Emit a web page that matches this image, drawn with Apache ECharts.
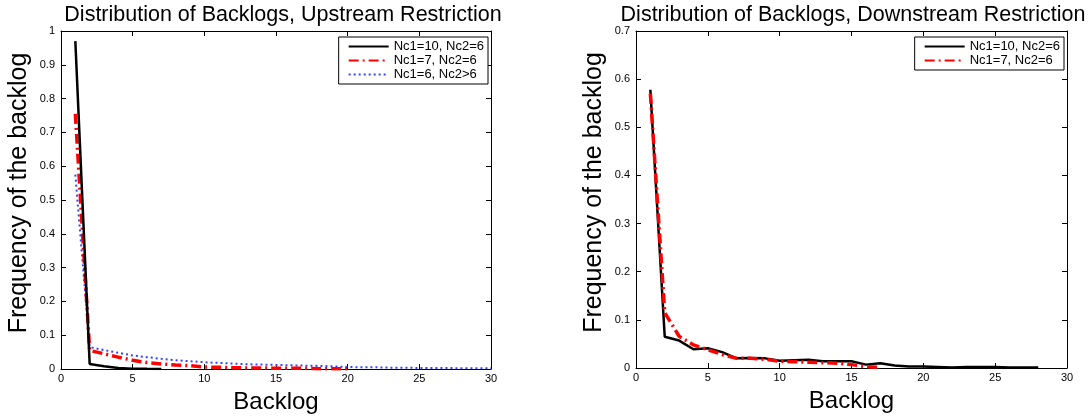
<!DOCTYPE html>
<html>
<head>
<meta charset="utf-8">
<script src="https://cdn.jsdelivr.net/npm/echarts@6/dist/echarts.min.js"></script>
<style>
  html, body { margin: 0; padding: 0; background: #fff; }
  #chart { width: 1088px; height: 419px; }
</style>
</head>
<body>
<div id="chart"></div>
<script>
// backlog values 1..n for each series
var upNames = ['Nc1=10, Nc2=6', 'Nc1=7, Nc2=6', 'Nc1=6, Nc2>6'];
var upA = [0.97, 0.015, 0.008, 0.003, 0.001, 0.0005, 0.0003];
var upB = [0.755, 0.055, 0.045, 0.035, 0.026, 0.019, 0.015, 0.012, 0.01, 0.006,
           0.005, 0.004, 0.003, 0.003, 0.002, 0.002, 0.002, 0.001, 0.001, 0.001];
var upC = [0.575, 0.065, 0.056, 0.048, 0.04, 0.035, 0.03, 0.026, 0.023, 0.02,
           0.018, 0.016, 0.014, 0.013, 0.012, 0.011, 0.01, 0.009, 0.008, 0.006,
           0.005, 0.005, 0.004, 0.004, 0.003, 0.003, 0.003, 0.002, 0.002, 0.002];

var downNames = ['Nc1=10, Nc2=6', 'Nc1=7, Nc2=6'];
var downA = [0.578, 0.065, 0.057, 0.039, 0.041, 0.033, 0.02, 0.021, 0.02, 0.015,
             0.016, 0.017, 0.014, 0.014, 0.014, 0.007, 0.01, 0.005, 0.003, 0.003,
             0.002, 0.001, 0.002, 0.002, 0.002, 0.001, 0.001, 0.001];
var downB = [0.57, 0.115, 0.066, 0.048, 0.038, 0.028, 0.02, 0.02, 0.018, 0.014,
             0.013, 0.012, 0.011, 0.01, 0.007, 0.003, 0.001];

var titles = ['Distribution of Backlogs, Upstream Restriction',
              'Distribution of Backlogs, Downstream Restriction'];

function pairs(arr) {
  return arr.map(function (v, i) { return [i + 1, v]; });
}

var FONT = 'Liberation Sans, Arial, sans-serif';

var styles = [
  { color: '#000', width: 2.5, type: 'solid' },
  { color: '#ff0000', width: 3.5, type: [10, 4, 2, 4] },
  { color: '#3344ff', width: 2, type: [2, 3] }
];

function mainX(grid) {
  return {
    type: 'value', gridIndex: grid, min: 0, max: 30, interval: 5,
    name: 'Backlog', nameLocation: 'middle', nameGap: 21,
    nameTextStyle: { fontFamily: FONT, fontSize: 24, color: '#000' },
    axisLine: { onZero: false, lineStyle: { color: '#000', width: 1 } },
    axisTick: { inside: true, length: 5, lineStyle: { color: '#000' } },
    axisLabel: { fontFamily: FONT, fontSize: 11, color: '#000', margin: 4 },
    splitLine: { show: false }
  };
}
function topX(grid) {
  return {
    type: 'value', gridIndex: grid, position: 'top', min: 0, max: 30, interval: 5,
    axisLine: { onZero: false, lineStyle: { color: '#000', width: 1 } },
    axisTick: { inside: true, length: 5, lineStyle: { color: '#000' } },
    axisLabel: { show: false }, splitLine: { show: false }
  };
}
function mainY(grid, max) {
  return {
    type: 'value', gridIndex: grid, min: 0, max: max, interval: 0.1,
    name: 'Frequency of the backlog', nameLocation: 'middle', nameGap: 29,
    nameTextStyle: { fontFamily: FONT, fontSize: 25, color: '#000', padding: [0, 0, 0, 14] },
    axisLine: { show: true, onZero: false, lineStyle: { color: '#000', width: 1 } },
    axisTick: { show: true, inside: true, length: 5, lineStyle: { color: '#000' } },
    axisLabel: {
      fontFamily: FONT, fontSize: 11, color: '#000', margin: 6,
      formatter: function (v) { return String(Math.round(v * 10) / 10); }
    },
    splitLine: { show: false }
  };
}
function rightY(grid, max) {
  return {
    type: 'value', gridIndex: grid, position: 'right', min: 0, max: max, interval: 0.1,
    axisLine: { show: true, onZero: false, lineStyle: { color: '#000', width: 1 } },
    axisTick: { show: true, inside: true, length: 5, lineStyle: { color: '#000' } },
    axisLabel: { show: false }, splitLine: { show: false }
  };
}

function line(name, data, xi, yi, st) {
  return {
    name: name, type: 'line', xAxisIndex: xi, yAxisIndex: yi,
    data: pairs(data), symbol: 'none', animation: false,
    lineStyle: { color: st.color, width: st.width, type: st.type },
    itemStyle: { color: st.color }
  };
}

function legendBox(names, right) {
  return {
    data: names, right: right, top: 37, orient: 'vertical',
    itemWidth: 40, itemHeight: 10, itemGap: 1, padding: [3, 4, 3, 9],
    borderColor: '#000', borderWidth: 1, backgroundColor: '#fff',
    itemStyle: { opacity: 0 },
    textStyle: { fontFamily: FONT, fontSize: 13, color: '#000' }
  };
}

var chart = echarts.init(document.getElementById('chart'));
chart.setOption({
  backgroundColor: '#fff',
  animation: false,
  title: [
    { text: titles[0], left: 278, top: -1, textAlign: 'center',
      textStyle: { fontFamily: FONT, fontSize: 21.5, fontWeight: 'normal', color: '#000' } },
    { text: titles[1], left: 848, top: -1, textAlign: 'center',
      textStyle: { fontFamily: FONT, fontSize: 21.5, fontWeight: 'normal', color: '#000' } }
  ],
  grid: [
    { left: 61, right: 597, top: 31, bottom: 50 },
    { left: 636, right: 21, top: 31, bottom: 51 }
  ],
  legend: [legendBox(upNames, 600), legendBox(downNames, 24)],
  xAxis: [mainX(0), topX(0), mainX(1), topX(1)],
  yAxis: [mainY(0, 1), rightY(0, 1), mainY(1, 0.7), rightY(1, 0.7)],
  series: [
    line(upNames[2], upC, 0, 0, styles[2]),
    line(upNames[1], upB, 0, 0, styles[1]),
    line(upNames[0], upA, 0, 0, styles[0]),
    line(downNames[0], downA, 2, 2, styles[0]),
    line(downNames[1], downB, 2, 2, styles[1])
  ]
});
</script>
</body>
</html>
